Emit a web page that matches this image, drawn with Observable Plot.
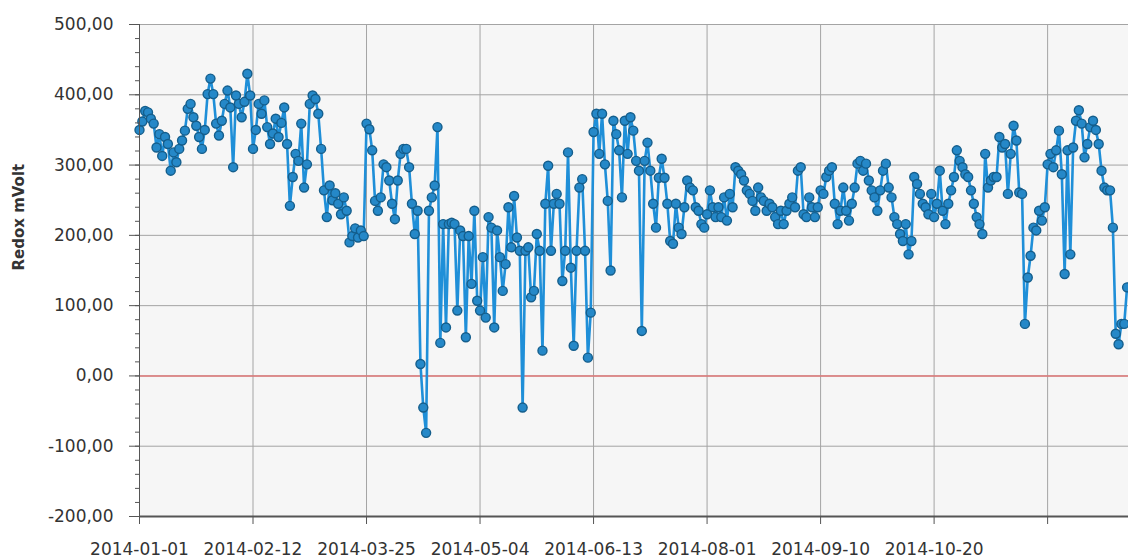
<!DOCTYPE html>
<html>
<head>
<meta charset="utf-8">
<script src="https://cdn.jsdelivr.net/npm/d3@7"></script>
<script src="https://cdn.jsdelivr.net/npm/@observablehq/plot@0.6"></script>
<style>
  html, body { margin: 0; padding: 0; background: #ffffff; }
  #chart { width: 1128px; height: 560px; overflow: hidden; }
</style>
</head>
<body>
<div id="chart"></div>
<script>
// Redox readings (mVolt), one per measurement, in order
const redoxValues = [
  350, 362, 377, 375, 366, 359, 325, 344, 313, 340,
  330, 292, 318, 304, 323, 335, 349, 380, 387, 368,
  356, 340, 323, 350, 401, 423, 401, 359, 342, 363,
  387, 406, 382, 297, 399, 387, 368, 390, 430, 399,
  323, 350, 387, 373, 392, 354, 330, 345, 366, 340,
  360, 382, 330, 242, 283, 316, 306, 359, 268, 301,
  387, 399, 394, 373, 323, 264, 226, 271, 250, 260,
  245, 230, 254, 235, 190, 199, 210, 197, 207, 199,
  359, 351, 321, 249, 235, 254, 301, 297, 278, 245,
  223, 278, 316, 323, 323, 297, 245, 202, 235, 17,
  -45, -81, 235, 254, 271, 354, 47, 216, 69, 216,
  218, 216, 93, 207, 199, 55, 199, 131, 235, 107,
  93, 169, 83, 226, 211, 69, 207, 169, 121, 159,
  240, 183, 256, 197, 178, -45, 178, 183, 112, 121,
  202, 178, 36, 245, 299, 178, 245, 259, 245, 135,
  178, 318, 154, 43, 178, 268, 280, 178, 26, 90,
  347, 373, 316, 373, 301, 249, 150, 363, 344, 321,
  254, 363, 316, 368, 349, 306, 292, 64, 306, 332,
  292, 245, 211, 282, 309, 282, 245, 192, 188, 245,
  211, 202, 240, 278, 268, 264, 240, 235, 216, 211,
  230, 264, 240, 226, 240, 226, 254, 221, 259, 240,
  297, 292, 287, 278, 264, 259, 249, 235, 268, 254,
  249, 235, 245, 240, 226, 216, 235, 216, 235, 245,
  254, 240, 292, 297, 230, 226, 254, 240, 226, 240,
  264, 259, 283, 292, 297, 245, 216, 235, 268, 235,
  221, 245, 268, 302, 306, 292, 302, 278, 264, 254,
  235, 264, 292, 302, 268, 254, 226, 216, 202, 192,
  216, 173, 192, 283, 273, 259, 245, 240, 230, 259,
  226, 245, 292, 235, 216, 245, 264, 283, 321, 306,
  297, 287, 283, 264, 245, 226, 216, 202, 316, 268,
  278, 283, 283, 340, 325, 330, 259, 316, 356, 335,
  261, 259, 74, 140, 171, 211, 207, 235, 221, 240,
  301, 316, 297, 321, 349, 287, 145, 321, 173, 325,
  363, 378, 359, 311, 330, 354, 363, 350, 330, 292,
  268, 264, 264, 211, 60, 45, 74, 74, 126
];

// x-axis: tick positions (measurement index) and their labels
const xTickIndex = [0, 40, 80, 120, 160, 200, 240, 280, 320];
const xTickLabels = ["2014-01-01", "2014-02-12", "2014-03-25", "2014-05-04",
                     "2014-06-13", "2014-08-01", "2014-09-10", "2014-10-20", ""];

// y-axis ticks
const yTicks = [-200, -100, 0, 100, 200, 300, 400, 500];
const yMinorTicks = d3.range(-200, 501, 20);

const yTitle = "Redox mVolt";

const data = redoxValues.map((v, i) => ({ i, v }));

const chart = Plot.plot({
  width: 1128,
  height: 560,
  marginLeft: 139,
  marginRight: 0,
  marginTop: 24,
  marginBottom: 44,
  style: { fontFamily: "'DejaVu Sans', Verdana, sans-serif", fontSize: "17px", color: "#333", background: "#ffffff", overflow: "hidden" },
  x: { domain: [0, 348.5], label: null },
  y: { domain: [-200, 500], label: null },
  marks: [
    Plot.frame({ fill: "#f6f6f6", stroke: null }),
    Plot.gridY(yTicks, { stroke: "#a4a4a4", strokeOpacity: 1 }),
    Plot.gridX(xTickIndex, { stroke: "#a4a4a4", strokeOpacity: 1 }),
    Plot.ruleY([0], { stroke: "#e07878", strokeWidth: 1.5 }),
    Plot.line(data, { x: "i", y: "v", stroke: "#1f8fd8", strokeWidth: 2.6 }),
    Plot.dot(data, { x: "i", y: "v", r: 4.5, fill: "#2588c8", stroke: "#145e8c", strokeWidth: 1.4 }),
    Plot.ruleX([0], { stroke: "#555" }),
    Plot.ruleY([-200], { stroke: "#555", strokeWidth: 2 }),
    Plot.axisY(yMinorTicks, { tickSize: 4, tickFormat: () => "", stroke: "#555", label: null }),
    Plot.axisY(yTicks, {
      tickSize: 10, tickPadding: 16, stroke: "#555",
      tickFormat: d => d.toFixed(2).replace(".", ","),
      label: null
    }),
    Plot.axisX(xTickIndex, {
      tickSize: 8, tickPadding: 18, stroke: "#555",
      tickFormat: d => xTickLabels[xTickIndex.indexOf(d)],
      label: null
    }),
    Plot.text([yTitle], { frameAnchor: "left", rotate: -90, dx: -120, fontWeight: "bold", fontSize: 15, fill: "#333" })
  ]
});

document.getElementById("chart").appendChild(chart);
</script>
</body>
</html>
